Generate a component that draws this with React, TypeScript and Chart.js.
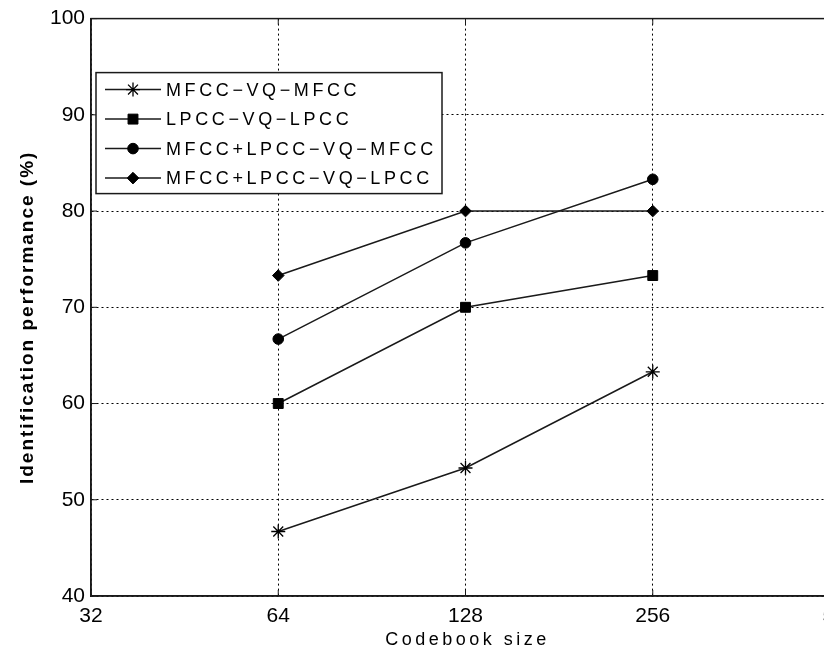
import React, { useEffect, useRef } from 'react';
import { Chart, registerables } from 'chart.js';
import { drawPoint } from 'chart.js/helpers';

Chart.register(...registerables);

// ---- data ----
const codebookSizes = [64, 128, 256];
const xTickValues = [32, 64, 128, 256, 512];
const yMin = 40;
const yMax = 100;
const yStep = 10;
const seriesLabels = ['MFCC−VQ−MFCC', 'LPCC−VQ−LPCC', 'MFCC+LPCC−VQ−MFCC', 'MFCC+LPCC−VQ−LPCC'];
const mfccVqMfcc = [46.7, 53.3, 63.3];
const lpccVqLpcc = [60.0, 70.0, 73.3];
const mfccLpccVqMfcc = [66.7, 76.7, 83.3];
const mfccLpccVqLpcc = [73.3, 80.0, 80.0];
const xTitle = 'Codebook size';
const yTitle = 'Identification performance (%)';

const seriesValues = [mfccVqMfcc, lpccVqLpcc, mfccLpccVqMfcc, mfccLpccVqLpcc];
const markerStyles = ['star', 'rect', 'circle', 'rectRot'];
const markerRadii = [7, 7, 5.3, 5.8];

const INK = '#1a1a1a';

const framePlugin = {
  id: 'matlabFrame',
  afterDraw(chart: any) {
    const { ctx, chartArea: a, scales } = chart;
    const xs = scales.x;
    const ys = scales.y;
    ctx.save();
    // solid box
    ctx.strokeStyle = INK;
    ctx.lineWidth = 1.5;
    ctx.setLineDash([]);
    ctx.strokeRect(a.left, a.top, a.right - a.left, a.bottom - a.top);
    // inward tick marks
    ctx.lineWidth = 1;
    const tl = 6;
    xTickValues.forEach((v) => {
      const px = xs.getPixelForValue(v);
      ctx.beginPath();
      ctx.moveTo(px, a.bottom);
      ctx.lineTo(px, a.bottom - tl);
      ctx.moveTo(px, a.top);
      ctx.lineTo(px, a.top + tl);
      ctx.stroke();
    });
    for (let v = yMin; v <= yMax; v += yStep) {
      const py = ys.getPixelForValue(v);
      ctx.beginPath();
      ctx.moveTo(a.left, py);
      ctx.lineTo(a.left + tl, py);
      ctx.moveTo(a.right, py);
      ctx.lineTo(a.right - tl, py);
      ctx.stroke();
    }

    // legend
    const lx = a.left + 5;
    const ly = a.top + 54;
    const lw = 346;
    const lh = 121;
    ctx.fillStyle = '#ffffff';
    ctx.fillRect(lx, ly, lw, lh);
    ctx.strokeStyle = INK;
    ctx.lineWidth = 1.5;
    ctx.strokeRect(lx, ly, lw, lh);
    chart.data.datasets.forEach((ds: any, i: number) => {
      const ry = ly + 17 + i * 29.5;
      ctx.strokeStyle = INK;
      ctx.lineWidth = 1.5;
      ctx.beginPath();
      ctx.moveTo(lx + 9, ry);
      ctx.lineTo(lx + 65, ry);
      ctx.stroke();
      ctx.fillStyle = '#000';
      ctx.strokeStyle = '#000';
      ctx.lineWidth = ds.pointStyle === 'star' ? 1.3 : 1;
      drawPoint(ctx, { pointStyle: ds.pointStyle, radius: ds.pointRadius, rotation: 0, borderWidth: 1 }, lx + 37, ry);
      ctx.fillStyle = '#000';
      ctx.font = '18px "Liberation Sans", Arial, sans-serif';
      (ctx as any).letterSpacing = '3.6px';
      ctx.textAlign = 'left';
      ctx.textBaseline = 'middle';
      ctx.fillText(ds.label, lx + 70, ry + 1);
    });

    // axis titles
    ctx.fillStyle = '#000';
    ctx.font = '18px "Liberation Sans", Arial, sans-serif';
    (ctx as any).letterSpacing = '3.5px';
    ctx.textAlign = 'center';
    ctx.textBaseline = 'alphabetic';
    ctx.fillText(xTitle, (xs.getPixelForValue(64) + xs.getPixelForValue(256)) / 2 + 2, 645);

    ctx.font = 'bold 19px "Liberation Sans", Arial, sans-serif';
    (ctx as any).letterSpacing = '2px';
    ctx.translate(33, (a.top + a.bottom) / 2 + 10);
    ctx.rotate(-Math.PI / 2);
    ctx.fillText(yTitle, 0, 0);
    ctx.restore();
  },
};

export default function App() {
  const canvasRef = useRef<HTMLCanvasElement | null>(null);

  useEffect(() => {
    const canvas = canvasRef.current;
    if (!canvas) return;
    const datasets = seriesLabels.map((label, i) => ({
      label,
      data: codebookSizes.map((x, j) => ({ x, y: seriesValues[i][j] })),
      borderColor: INK,
      borderWidth: 1.5,
      backgroundColor: '#000',
      pointStyle: markerStyles[i],
      pointRadius: markerRadii[i],
      pointBorderColor: '#000',
      pointBackgroundColor: '#000',
      pointBorderWidth: i === 0 ? 1.3 : 1,
      tension: 0,
      fill: false,
    }));

    const tickFont = { family: '"Liberation Sans", Arial, sans-serif', size: 21 };

    const chart = new Chart(canvas, {
      type: 'line',
      data: { datasets },
      plugins: [framePlugin],
      options: {
        animation: false,
        responsive: false,
        devicePixelRatio: 1,
        layout: { padding: { left: 0, top: 18, right: 40, bottom: 0 } },
        plugins: {
          legend: { display: false },
          tooltip: { enabled: false },
        },
        scales: {
          x: {
            type: 'logarithmic',
            min: xTickValues[0],
            max: xTickValues[xTickValues.length - 1],
            afterBuildTicks: (s: any) => {
              s.ticks = xTickValues.map((v) => ({ value: v }));
            },
            afterFit: (s: any) => {
              s.height = 56;
            },
            ticks: {
              callback: (v: any) => String(v),
              color: '#000',
              font: tickFont,
              padding: 8,
              maxRotation: 0,
              autoSkip: false,
            },
            grid: { color: '#000', lineWidth: 1, drawTicks: false },
            border: { display: true, color: INK, width: 1.5, dash: [2, 3] },
          },
          y: {
            type: 'linear',
            min: yMin,
            max: yMax,
            afterFit: (s: any) => {
              s.width = 91;
            },
            ticks: {
              stepSize: yStep,
              color: '#000',
              font: tickFont,
              padding: 6,
            },
            grid: { color: '#000', lineWidth: 1, drawTicks: false },
            border: { display: true, color: INK, width: 1.5, dash: [2, 3] },
          },
        },
      } as any,
    });
    return () => chart.destroy();
  }, []);

  return (
    <div
      style={{
        position: 'fixed',
        left: 0,
        top: 0,
        width: 824,
        height: 652,
        overflow: 'hidden',
        background: '#ffffff',
      }}
    >
      <canvas ref={canvasRef} width={880} height={652} style={{ display: 'block', width: 880, height: 652 }} />
    </div>
  );
}
